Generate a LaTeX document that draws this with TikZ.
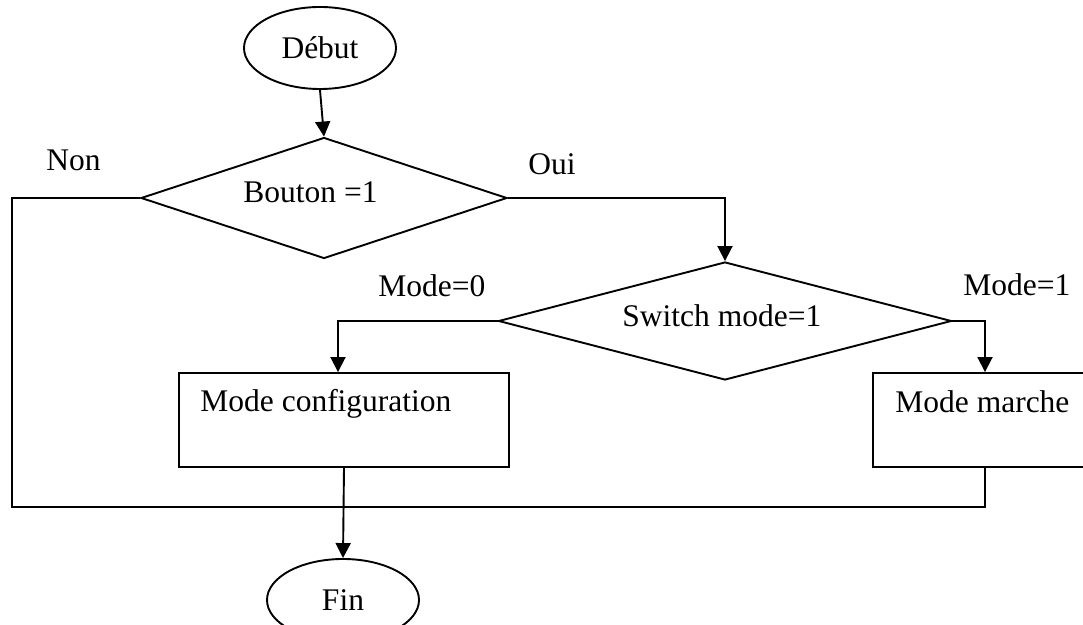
\documentclass[tikz,border=0pt]{standalone}
\usepackage{fontspec}
\setmainfont{Liberation Serif}
\usetikzlibrary{shapes.geometric,arrows.meta}

\begin{document}
\begin{tikzpicture}[x=0.5pt,y=-0.5pt,
  flow/.style={line width=0.95pt},
  arr/.style={flow,-{Triangle[length=7.5pt,width=7.5pt]}},
  term/.style={draw,ellipse,line width=0.95pt,inner sep=0pt,
    minimum width=76pt,minimum height=41pt,font=\fontsize{15.75}{18}\selectfont},
  decision/.style={draw,diamond,line width=0.95pt,inner sep=0pt},
  stepbox/.style={draw,rectangle,line width=0.95pt,inner sep=0pt},
  txt/.style={inner sep=0pt,anchor=base west,font=\fontsize{15.75}{18}\selectfont}
]
% page frame
\useasboundingbox (0,0) rectangle (1083,625);
\clip (0,0) rectangle (1083,625);

% terminals
\node[term] (debut) at (320,48) {Début};
\node[term] (fin) at (343,600) {Fin};

% decisions
\node[decision,minimum width=183pt,minimum height=60.5pt] (d1) at (324,198) {};
\node[decision,minimum width=226.5pt,minimum height=59pt] (d2) at (725,321) {};

% process boxes
\node[stepbox,minimum width=165pt,minimum height=47pt] (mc) at (344,420) {};
\node[stepbox,minimum width=112pt,minimum height=47pt] (mm) at (985,420) {};

% texts
\node[txt] (t1) at (243,203) {Bouton =1};
\node[txt] (t2) at (622,327) {Switch mode=1};
\node[txt] (t3) at (200,412) {Mode configuration};
\node[txt] (t4) at (895,413) {Mode marche};
\node[txt] (non) at (46,171) {Non};
\node[txt] (oui) at (528,175) {Oui};
\node[txt] (m0) at (378,297) {Mode=0};
\node[txt] (m1) at (963,296) {Mode=1};

% corners of the return loop
\coordinate (lt) at (12,198);
\coordinate (lb) at (12,507);
\coordinate (rb) at (985,507);

% connectors
\draw[arr] (debut.south) -- (d1.north);
\draw[arr] (d1.east) -| (d2.north);
\draw[arr] (d2.west) -| ([xshift=-3pt]mc.north);
\draw[arr] (d2.east) -| (mm.north);
\draw[arr] (mc.south) -- (fin.north);
\draw[flow] (d1.west) -- (lt) -- (lb) -- (rb) -- (mm.south);
\end{tikzpicture}
\end{document}
